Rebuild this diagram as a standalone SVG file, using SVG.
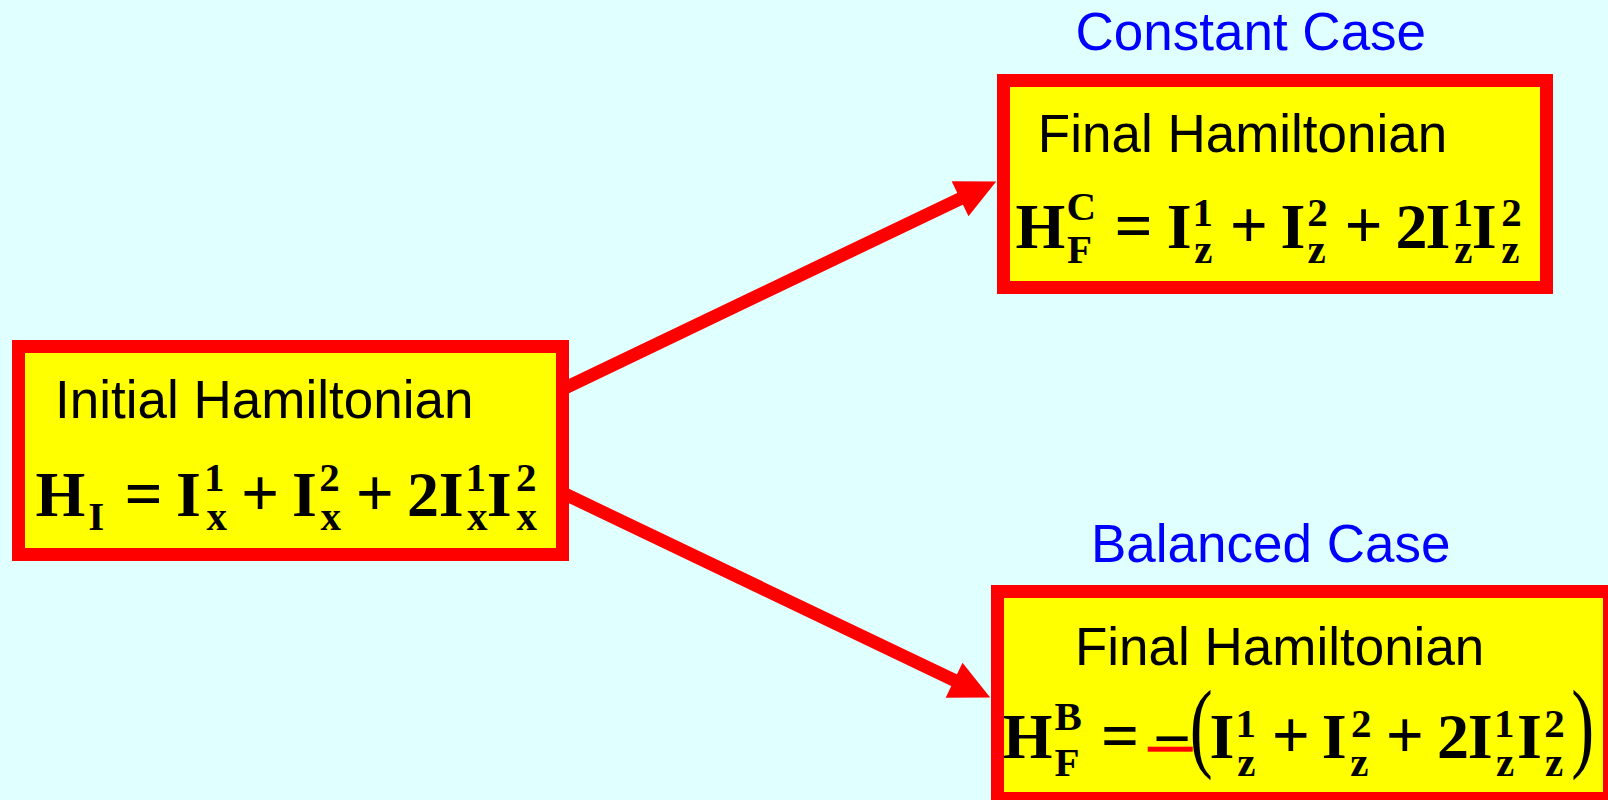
<svg xmlns="http://www.w3.org/2000/svg" width="1608" height="800" viewBox="0 0 1608 800">
<style>
.box{fill:#FFFF00;stroke:#FF0000;stroke-width:13}
.conn{stroke:#FF0000;stroke-width:13;fill:none}
.lbl{font-family:"Liberation Sans",Arial,sans-serif;font-size:53px;fill:#000}
.case{font-family:"Liberation Sans",Arial,sans-serif;font-size:53px;fill:#0000FF}
.m{font-family:"Liberation Serif","Times New Roman",serif;font-weight:bold;font-size:64px;fill:#000}
.o{font-family:"Liberation Serif","Times New Roman",serif;font-weight:bold;font-size:67px;fill:#000}
.s{font-family:"Liberation Serif","Times New Roman",serif;font-weight:bold;font-size:41px;fill:#000}
.p{font-family:"Liberation Serif","Times New Roman",serif;font-size:98.5px;fill:#000}
</style>
<defs>
<marker id="ah" markerUnits="userSpaceOnUse" markerWidth="41" markerHeight="40" refX="1" refY="19.5" orient="auto" overflow="visible">
<path d="M0,0 L40,19.5 L0,39 Z" fill="#FF0000"/>
</marker>
</defs>
<rect x="0" y="0" width="1608" height="800" fill="#E0FFFF"/>
<g id="connectors">
<line class="conn" x1="560" y1="390.3" x2="961" y2="198.3" marker-end="url(#ah)"/>
<line class="conn" x1="560" y1="491.7" x2="955" y2="680.7" marker-end="url(#ah)"/>
</g>
<g id="initial">
<rect class="box" x="18.5" y="346.5" width="544" height="208"/>
<text class="lbl" x="55.1" y="418">Initial Hamiltonian</text>
<text class="m" x="35.5" y="515.5">H</text>
<text class="s" x="88.2" y="530">I</text>
<text class="o" x="124.5" y="515.5">=</text>
<text class="m" x="176" y="515.5">I</text>
<text class="s" x="204.1" y="491">1</text>
<text class="s" x="206.4" y="530">x</text>
<text class="o" x="241.1" y="515.5">+</text>
<text class="m" x="292" y="515.5">I</text>
<text class="s" x="319.3" y="491">2</text>
<text class="s" x="320.4" y="530">x</text>
<text class="o" x="355.8" y="515.5">+</text>
<text class="m" x="406.9" y="515.5">2</text>
<text class="m" x="438.7" y="515.5">I</text>
<text class="s" x="465.4" y="491">1</text>
<text class="s" x="467.1" y="530">x</text>
<text class="m" x="486.7" y="515.5">I</text>
<text class="s" x="516" y="491">2</text>
<text class="s" x="516.4" y="530">x</text>
</g>
<g id="constant">
<text class="case" x="1075.5" y="50">Constant Case</text>
<rect class="box" x="1003.5" y="80.5" width="543" height="207"/>
<text class="lbl" x="1037.8" y="152">Final Hamiltonian</text>
<text class="m" x="1015.5" y="248">H</text>
<text class="s" x="1066.4" y="220">C</text>
<text class="s" x="1067.1" y="263">F</text>
<text class="o" x="1114.5" y="248">=</text>
<text class="m" x="1166.7" y="248">I</text>
<text class="s" x="1192.4" y="226">1</text>
<text class="s" x="1194.2" y="263">z</text>
<text class="o" x="1229.8" y="248">+</text>
<text class="m" x="1280.4" y="248">I</text>
<text class="s" x="1307.3" y="226">2</text>
<text class="s" x="1307.5" y="263">z</text>
<text class="o" x="1344.5" y="248">+</text>
<text class="m" x="1395.6" y="248">2</text>
<text class="m" x="1425.4" y="248">I</text>
<text class="s" x="1452.4" y="226">1</text>
<text class="s" x="1454.2" y="263">z</text>
<text class="m" x="1471.7" y="248">I</text>
<text class="s" x="1501.3" y="226">2</text>
<text class="s" x="1501.2" y="263">z</text>
</g>
<g id="balanced">
<text class="case" x="1091" y="561.7">Balanced Case</text>
<rect class="box" x="997.5" y="591.5" width="612" height="207"/>
<text class="lbl" x="1074.9" y="665">Final Hamiltonian</text>
<text class="m" x="1002.8" y="758">H</text>
<text class="s" x="1054.4" y="730">B</text>
<text class="s" x="1054.4" y="776">F</text>
<text class="o" x="1101.1" y="758">=</text>
<text class="o" x="1152.8" y="761">−</text>
<rect x="1147.7" y="746.7" width="45" height="5" fill="#FF0000"/>
<text class="p" transform="translate(1189.7,759.3) scale(0.7,1)">(</text>
<text class="m" x="1209.4" y="758">I</text>
<text class="s" x="1235.4" y="737">1</text>
<text class="s" x="1237.2" y="776">z</text>
<text class="o" x="1271.8" y="758">+</text>
<text class="m" x="1321.7" y="758">I</text>
<text class="s" x="1351" y="737">2</text>
<text class="s" x="1350.2" y="776">z</text>
<text class="o" x="1385.8" y="758">+</text>
<text class="m" x="1436.9" y="758">2</text>
<text class="m" x="1467.7" y="758">I</text>
<text class="s" x="1494.1" y="737">1</text>
<text class="s" x="1495.9" y="776">z</text>
<text class="m" x="1517" y="758">I</text>
<text class="s" x="1544.3" y="737">2</text>
<text class="s" x="1544.9" y="776">z</text>
<text class="p" transform="translate(1571.3,759.3) scale(0.7,1)">)</text>
</g>
</svg>
